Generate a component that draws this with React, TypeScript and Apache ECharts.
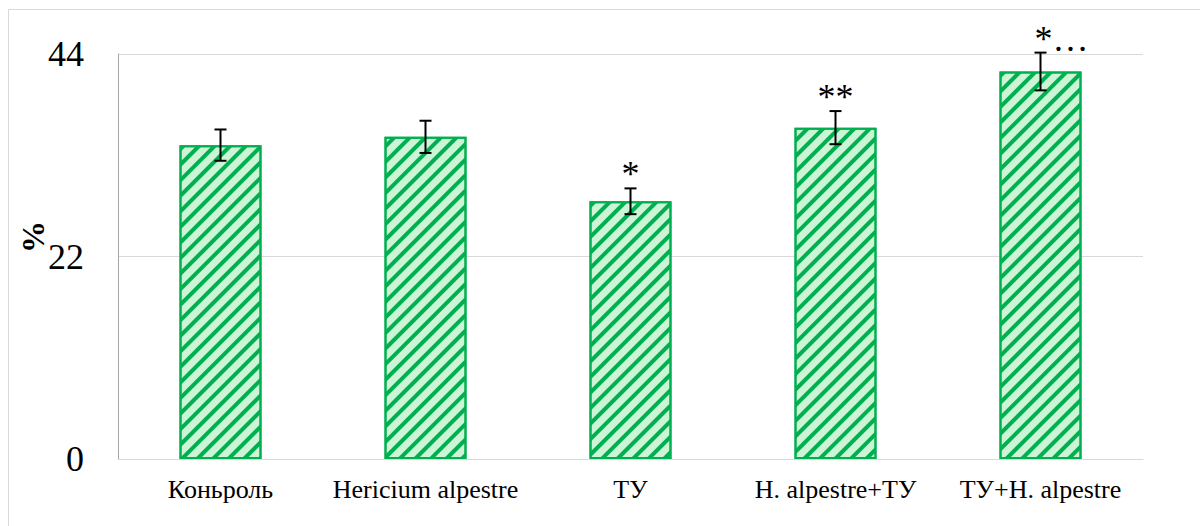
import React, { useEffect, useRef } from "react";
import * as echarts from "echarts";

// Groups on the category axis
const categories = ["Коньроль", "Hericium alpestre", "ТУ", "H. alpestre+ТУ", "ТУ+H. alpestre"];
// Mean values, %
const values = [34.1, 35.0, 28.0, 36.0, 42.1];
// Standard errors, %
const errors = [1.7, 1.75, 1.4, 1.8, 2.05];
// Significance marks above the error bars
const marks = ["", "", "*", "**", "*…"];
// Value axis ticks
const yTicks = [0, 22, 44];

const SERIF = "'Liberation Serif', 'Times New Roman', serif";
const GREEN = "#00b050";
const LIGHT = "#ccf5d5";

export default function App() {
  const ref = useRef<HTMLDivElement>(null);

  useEffect(() => {
    if (!ref.current) return;
    const chart = echarts.init(ref.current, null, { renderer: "svg" });

    const errData = values.map((v, i) => [i, v, errors[i]]);

    chart.setOption({
      animation: false,
      backgroundColor: "#ffffff",
      grid: { left: 118, right: 57, top: 54, bottom: 67 },
      graphic: [
        {
          type: "rect",
          shape: { x: 8.5, y: 9.5, width: 1400, height: 1000 },
          style: { fill: "none", stroke: "#d9d9d9", lineWidth: 1 },
          silent: true,
        },
        {
          type: "text",
          x: 33,
          y: 237,
          rotation: Math.PI / 2,
          style: {
            text: "%",
            font: `bold 32px ${SERIF}`,
            textAlign: "center",
            textVerticalAlign: "middle",
            fill: "#000",
          },
        },
      ],
      xAxis: {
        type: "category",
        data: categories,
        axisLine: { lineStyle: { color: "#d9d9d9", width: 1 } },
        axisTick: { show: false },
        axisLabel: { color: "#000", fontFamily: SERIF, fontSize: 26, margin: 17, interval: 0 },
      },
      yAxis: {
        type: "value",
        min: yTicks[0],
        max: yTicks[yTicks.length - 1],
        interval: yTicks[1] - yTicks[0],
        axisLine: { show: true, lineStyle: { color: "#a6a6a6", width: 1 } },
        axisTick: { show: false },
        splitLine: { lineStyle: { color: "#d9d9d9", width: 1 } },
        axisLabel: { color: "#000", fontFamily: SERIF, fontSize: 36, margin: 34 },
      },
      series: [
        {
          type: "bar",
          data: values,
          barWidth: 82,
          itemStyle: {
            color: LIGHT,
            borderColor: GREEN,
            borderWidth: 2,
            decal: {
              symbol: "rect",
              symbolSize: 1,
              dashArrayX: [1, 0],
              dashArrayY: [4, 7],
              rotation: -Math.PI / 4,
              color: GREEN,
              backgroundColor: "transparent",
            },
          },
        },
        {
          type: "custom",
          clip: false,
          data: errData,
          encode: { x: 0, y: 1 },
          z: 10,
          renderItem: (params: any, api: any) => {
            const i = api.value(0);
            const v = api.value(1);
            const e = api.value(2);
            const top = api.coord([i, v + e]);
            const bot = api.coord([i, v - e]);
            const cap = 6;
            const ls = { stroke: "#000", lineWidth: 2 };
            const children: any[] = [
              { type: "line", shape: { x1: top[0], y1: top[1], x2: bot[0], y2: bot[1] }, style: ls },
              { type: "line", shape: { x1: top[0] - cap, y1: top[1], x2: top[0] + cap, y2: top[1] }, style: ls },
              { type: "line", shape: { x1: bot[0] - cap, y1: bot[1], x2: bot[0] + cap, y2: bot[1] }, style: ls },
            ];
            const m = marks[params.dataIndex];
            if (m) {
              const trailing = m.endsWith("…");
              children.push({
                type: "text",
                x: trailing ? top[0] - 6 : top[0],
                y: top[1] - 14,
                style: {
                  text: m,
                  font: `36px ${SERIF}`,
                  textAlign: trailing ? "left" : "center",
                  textVerticalAlign: "middle",
                  fill: "#000",
                },
              });
            }
            return { type: "group", children };
          },
        },
      ],
    });

    return () => chart.dispose();
  }, []);

  return (
    <div
      ref={ref}
      style={{ position: "absolute", left: 0, top: 0, width: 1200, height: 526 }}
    />
  );
}
